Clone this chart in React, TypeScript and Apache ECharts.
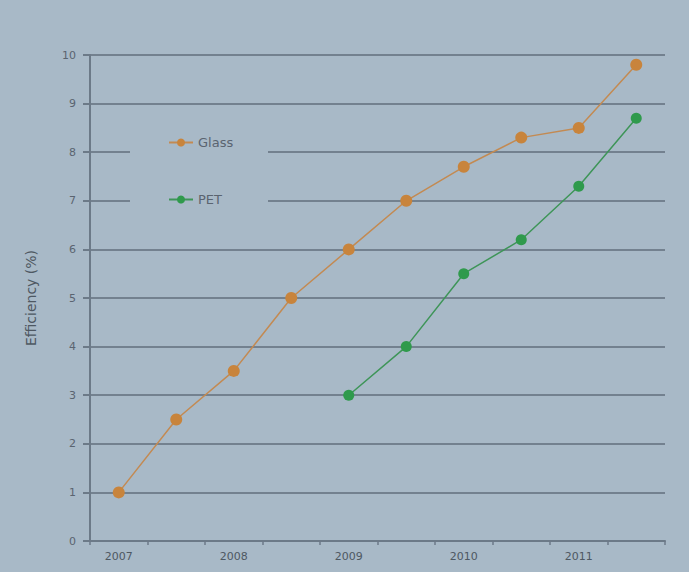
import React, { useEffect, useRef } from "react";
import * as echarts from "echarts";

const categories = ["2007", "2007.5", "2008", "2008.5", "2009", "2009.5", "2010", "2010.5", "2011", "2011.5"];
const glassValues = [1.0, 2.5, 3.5, 5.0, 6.0, 7.0, 7.7, 8.3, 8.5, 9.8];
const petValues: (number | null)[] = [null, null, null, null, 3.0, 4.0, 5.5, 6.2, 7.3, 8.7];
const yTicks = [0, 1, 2, 3, 4, 5, 6, 7, 8, 9, 10];

export default function App() {
  const ref = useRef<HTMLDivElement>(null);
  useEffect(() => {
    if (!ref.current) return;
    const chart = echarts.init(ref.current, undefined, { renderer: "svg" });
    const bg = "#a8b9c7";
    chart.setOption({
      animation: false,
      backgroundColor: bg,
      textStyle: { fontFamily: "DejaVu Sans" },
      grid: { left: 90, top: 55, width: 575, height: 486, containLabel: false },
      graphic: [
        { type: "rect", z: 3, shape: { x: 130, y: 118, width: 138, height: 98 }, style: { fill: bg } },
      ],
      legend: {
        orient: "vertical",
        left: 163,
        top: 131,
        itemGap: 44,
        itemWidth: 24,
        itemHeight: 10,
        z: 10,
        textStyle: { color: "#5a6470", fontSize: 13 },
        data: ["Glass", "PET"],
      },
      xAxis: {
        type: "category",
        data: categories,
        boundaryGap: true,
        axisLine: { lineStyle: { color: "#6c7a88", width: 2 } },
        axisTick: { show: true, interval: 0, length: 4, lineStyle: { color: "#6c7a88", width: 1.5 } },
        axisLabel: {
          interval: 1,
          color: "#4e5862",
          fontSize: 11,
          margin: 10,
        },
      },
      yAxis: {
        type: "value",
        min: yTicks[0],
        max: yTicks[yTicks.length - 1],
        interval: 1,
        name: "Efficiency (%)",
        nameLocation: "middle",
        nameGap: 52,
        nameRotate: 90,
        nameTextStyle: { color: "#4e5862", fontSize: 14 },
        axisLine: { show: true, lineStyle: { color: "#6c7a88", width: 2 } },
        axisTick: { show: true, length: 7, lineStyle: { color: "#6c7a88", width: 2 } },
        axisLabel: { color: "#5a6470", fontSize: 11, margin: 14 },
        splitLine: { show: true, lineStyle: { color: "#73818f", width: 2 } },
      },
      series: [
        {
          name: "Glass",
          type: "line",
          data: glassValues,
          symbol: "circle",
          symbolSize: 12,
          itemStyle: { color: "#c8843c" },
          lineStyle: { color: "#c38a52", width: 1.5 },
          z: 5,
        },
        {
          name: "PET",
          type: "line",
          data: petValues,
          symbol: "circle",
          symbolSize: 11,
          connectNulls: false,
          itemStyle: { color: "#2f9a4c" },
          lineStyle: { color: "#3e9558", width: 1.5 },
          z: 5,
        },
      ],
    });
    return () => chart.dispose();
  }, []);
  return (
    <div
      ref={ref}
      style={{ position: "fixed", left: 0, top: 0, width: "689px", height: "572px" }}
    />
  );
}
